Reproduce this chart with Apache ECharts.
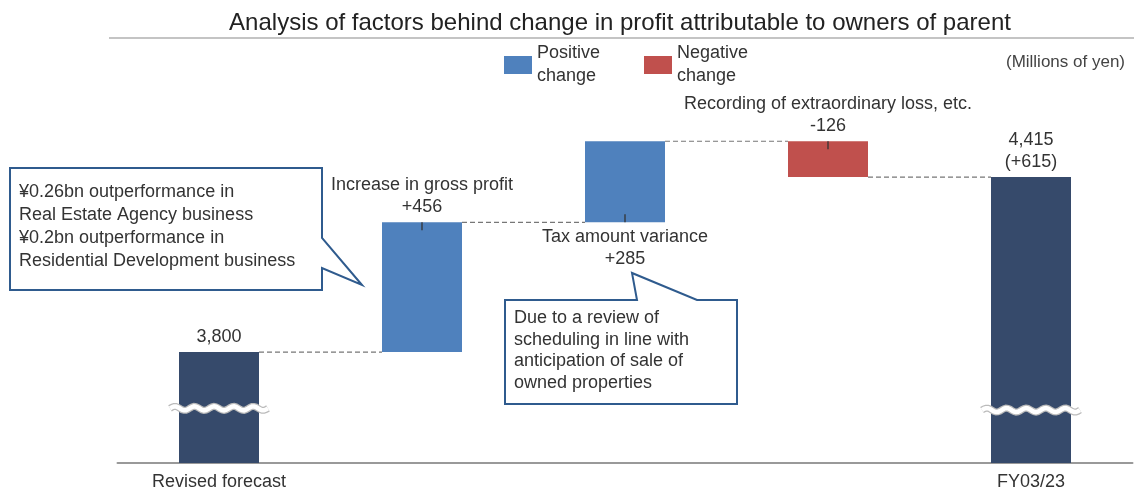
<!DOCTYPE html>
<html>
<head>
<meta charset="utf-8">
<script src="https://cdn.jsdelivr.net/npm/echarts@6/dist/echarts.min.js"></script>
<style>
  html, body { margin: 0; padding: 0; background: #fff; }
  #main { width: 1134px; height: 491px; }
</style>
</head>
<body>
<div id="main"></div>
<script>
// data
var categories = ['Revised forecast', '', '', '', 'FY03/23'];
var stepNames = ['', 'Increase in gross profit', 'Tax amount variance', 'Recording of extraordinary loss, etc.', ''];
var startValue = 3800;
var changes = [456, 285, -126];
var endValue = 4415;

var FONT = '"Liberation Sans", Arial, sans-serif';
var NAVY = '#364A6B';
var BLUE = '#4F81BD';
var RED = '#C0504D';

function fmt(n) { return n.toLocaleString('en-US'); }

// build waterfall series from the arrays
var base = ['-'], pos = ['-'], neg = ['-'], levels = [startValue];
var running = startValue;
changes.forEach(function (c, i) {
  var idx = i + 1;
  var labelPos = idx === 2 ? 'bottom' : 'top';
  var text = stepNames[idx] + '\n' + (c > 0 ? '+' : '') + c;
  if (c >= 0) {
    base.push(running);
    pos.push({ value: c, label: { show: true, position: labelPos, formatter: text } });
    neg.push('-');
  } else {
    base.push(running + c);
    neg.push({ value: -c, label: { show: true, position: labelPos, formatter: text } });
    pos.push('-');
  }
  running += c;
  levels.push(running);
});
base.push('-'); pos.push('-'); neg.push('-');

var totals = [
  { value: startValue, label: { show: true, position: 'top', formatter: fmt(startValue) } },
  '-', '-', '-',
  { value: endValue, label: { show: true, position: 'top',
    formatter: fmt(endValue) + '\n(+' + (endValue - startValue) + ')' } }
];

// connector dashes: [index, level]
var connectData = levels.map(function (v, i) { return [i, v]; });
// small ticks at the labelled edge of each step bar: [index, edgeValue, direction]
var tickData = [];
var lvl = startValue;
changes.forEach(function (c, i) {
  var idx = i + 1;
  var top = Math.max(lvl, lvl + c), bottom = Math.min(lvl, lvl + c);
  if (idx === 2) tickData.push([idx, bottom, -1]);
  else tickData.push([idx, top, 1]);
  lvl += c;
});

var chart = echarts.init(document.getElementById('main'));

var labelStyle = { color: '#333', fontSize: 18, fontFamily: FONT, lineHeight: 22, distance: 4 };

chart.setOption({
  animation: false,
  textStyle: { fontFamily: FONT },
  title: [
    { text: 'Analysis of factors behind change in profit attributable to owners of parent',
      left: 615, top: 6, textAlign: 'center',
      textStyle: { fontSize: 24, fontWeight: 'normal', color: '#222', fontFamily: FONT } },
    { text: '(Millions of yen)', right: 4, top: 49,
      textStyle: { fontSize: 17, fontWeight: 'normal', color: '#444', fontFamily: FONT } }
  ],
  legend: {
    left: 499, top: 37,
    itemWidth: 28, itemHeight: 18, itemGap: 44,
    icon: 'rect',
    data: ['Positive change', 'Negative change'],
    formatter: function (name) { return name.replace(' ', '\n'); },
    textStyle: { fontSize: 18, lineHeight: 23, color: '#333', fontFamily: FONT }
  },
  grid: { left: 117.5, right: 1.5, top: 96, bottom: 25 },
  xAxis: {
    type: 'category',
    data: categories,
    axisLine: { lineStyle: { color: '#999', width: 2 } },
    axisTick: { show: false },
    axisLabel: { color: '#333', fontSize: 18, margin: 10, fontFamily: FONT, interval: 0 }
  },
  yAxis: {
    type: 'value', min: 3410, max: 4700,
    show: false, splitLine: { show: false }
  },
  series: [
    { name: 'base', type: 'bar', stack: 'w', barWidth: 80, data: base,
      itemStyle: { color: 'transparent' }, silent: true },
    { name: 'Positive change', type: 'bar', stack: 'w', barWidth: 80, data: pos,
      itemStyle: { color: BLUE }, label: labelStyle },
    { name: 'Negative change', type: 'bar', stack: 'w', barWidth: 80, data: neg,
      itemStyle: { color: RED }, label: labelStyle },
    { name: 'total', type: 'bar', stack: 'w', barWidth: 80, data: totals,
      itemStyle: { color: NAVY }, label: labelStyle },
    { name: 'connect', type: 'custom', data: connectData, z: 1,
      renderItem: function (params, api) {
        var i = api.value(0);
        if (i >= categories.length - 1) return;
        var p = api.coord([i, api.value(1)]);
        var band = api.size([1, 0])[0];
        return { type: 'line',
          shape: { x1: p[0] + 40, y1: p[1], x2: p[0] + band - 40, y2: p[1] },
          style: { stroke: '#777', lineWidth: 1.2, lineDash: [5, 3] } };
      } },
    { name: 'ticks', type: 'custom', data: tickData, z: 5,
      renderItem: function (params, api) {
        var p = api.coord([api.value(0), api.value(1)]);
        var d = api.value(2);
        return { type: 'line',
          shape: { x1: p[0], y1: p[1], x2: p[0], y2: p[1] + 8 * d },
          style: { stroke: '#333', lineWidth: 1.3 } };
      } }
  ]
});

// break marks on the two total bars
function wave(cx, cy) {
  var pts = [];
  for (var x = -49; x <= 49; x += 2) {
    pts.push([cx + x, cy + 2 * Math.sin(x / 98 * Math.PI * 10)]);
  }
  return pts;
}
var breaks = [];
[[0, 3602], [4, 3596]].forEach(function (b) {
  var p = chart.convertToPixel({ gridIndex: 0 }, b);
  breaks.push({ type: 'polyline', shape: { points: wave(p[0], p[1]) },
    style: { stroke: '#bbb', lineWidth: 7, fill: null }, z: 10 });
  breaks.push({ type: 'polyline', shape: { points: wave(p[0], p[1]) },
    style: { stroke: '#fff', lineWidth: 4.5, fill: null }, z: 11 });
});

chart.setOption({
  graphic: [
    // rule under the title
    { type: 'line', shape: { x1: 109, y1: 38, x2: 1134, y2: 38 },
      style: { stroke: '#c4c4c4', lineWidth: 2 } },
    // left callout
    { type: 'polygon', z: 20,
      shape: { points: [[10, 168], [322, 168], [322, 238], [362, 285], [322, 268], [322, 290], [10, 290]] },
      style: { fill: '#fff', stroke: '#2F5B8E', lineWidth: 2 } },
    { type: 'text', left: 19, top: 181, z: 21,
      style: { text: '¥0.26bn outperformance in\nReal Estate Agency business\n¥0.2bn outperformance in\nResidential Development business',
        font: '18px ' + FONT, fill: '#333', lineHeight: 23 } },
    // right callout
    { type: 'polygon', z: 20,
      shape: { points: [[505, 300], [637, 300], [632, 273], [697, 300], [737, 300], [737, 404], [505, 404]] },
      style: { fill: '#fff', stroke: '#2F5B8E', lineWidth: 2 } },
    { type: 'text', left: 514, top: 307, z: 21,
      style: { text: 'Due to a review of\nscheduling in line with\nanticipation of sale of\nowned properties',
        font: '18px ' + FONT, fill: '#333', lineHeight: 21.7 } }
  ].concat(breaks)
});
</script>
</body>
</html>
